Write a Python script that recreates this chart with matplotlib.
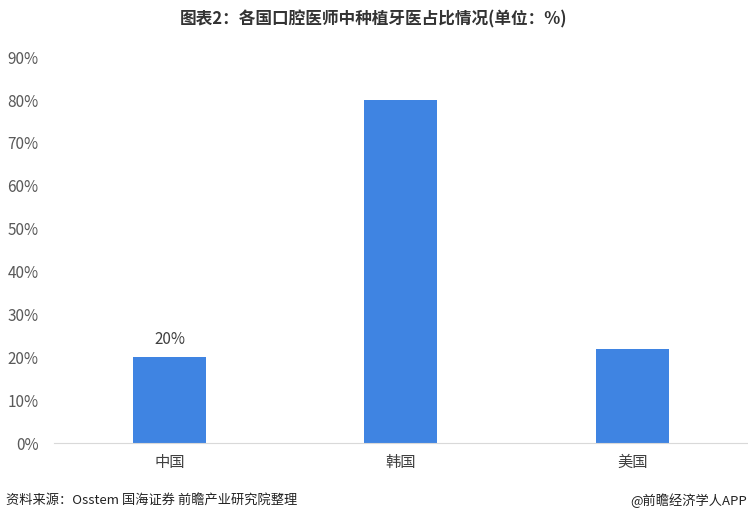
import matplotlib.pyplot as plt
from matplotlib.ticker import FuncFormatter

plt.rcParams['font.family'] = ['Noto Sans CJK SC', 'DejaVu Sans']

countries = ["中国", "韩国", "美国"]
shares = [20, 80, 22]
labeled = [True, False, False]
yticks = list(range(0, 91, 10))

fig = plt.figure(figsize=(7.48, 5.20), dpi=100)
ax = fig.add_axes([0.072, 0.148, 0.928, 0.742])

x = range(len(countries))
bars = ax.bar(x, shares, width=0.315, color="#3F84E2")
for b, v, show in zip(bars, shares, labeled):
    if show:
        ax.text(b.get_x() + b.get_width() / 2, v + 2.2, f"{v}%",
                ha="center", va="bottom", fontsize=11, color="#404040")

ax.set_xlim(-0.5, 2.5)
ax.set_ylim(0, 90)
ax.set_yticks(yticks)
ax.yaxis.set_major_formatter(FuncFormatter(lambda v, p: f"{v:.0f}%"))
ax.set_xticks(list(x))
ax.set_xticklabels(countries)
ax.tick_params(axis="y", length=0, labelsize=11, labelcolor="#595959", pad=11)
ax.tick_params(axis="x", length=0, labelsize=11, labelcolor="#404040", pad=8)
for s in ["top", "right", "left"]:
    ax.spines[s].set_visible(False)
ax.spines["bottom"].set_color("#D9D9D9")

fig.text(0.5, 0.962, "图表2：各国口腔医师中种植牙医占比情况(单位：%)", ha="center", va="center",
         fontsize=12, fontweight="bold", color="#333333")
fig.text(0.008, 0.038, "资料来源：Osstem 国海证券 前瞻产业研究院整理", ha="left", va="center",
         fontsize=9.5, color="#222222")
fig.text(0.999, 0.038, "@前瞻经济学人APP", ha="right", va="center",
         fontsize=9.5, color="#222222")

fig.savefig("out.png", dpi=100)
